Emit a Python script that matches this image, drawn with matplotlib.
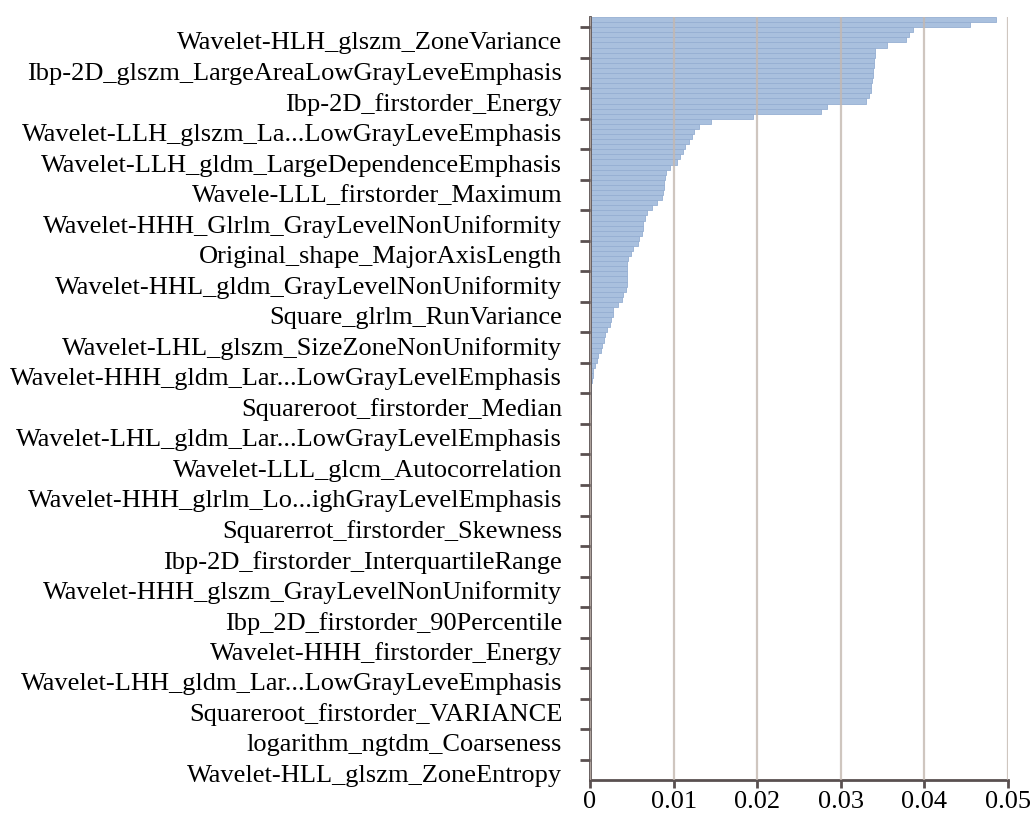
import numpy as np
import matplotlib.pyplot as plt

# feature names shown on the axis (top to bottom)
feature_labels = [
    "Wavelet-HLH_glszm_ZoneVariance",
    "Ibp-2D_glszm_LargeAreaLowGrayLeveEmphasis",
    "Ibp-2D_firstorder_Energy",
    "Wavelet-LLH_glszm_La...LowGrayLeveEmphasis",
    "Wavelet-LLH_gldm_LargeDependenceEmphasis",
    "Wavele-LLL_firstorder_Maximum",
    "Wavelet-HHH_Glrlm_GrayLevelNonUniformity",
    "Original_shape_MajorAxisLength",
    "Wavelet-HHL_gldm_GrayLevelNonUniformity",
    "Square_glrlm_RunVariance",
    "Wavelet-LHL_glszm_SizeZoneNonUniformity",
    "Wavelet-HHH_gldm_Lar...LowGrayLevelEmphasis",
    "Squareroot_firstorder_Median",
    "Wavelet-LHL_gldm_Lar...LowGrayLevelEmphasis",
    "Wavelet-LLL_glcm_Autocorrelation",
    "Wavelet-HHH_glrlm_Lo...ighGrayLevelEmphasis",
    "Squarerrot_firstorder_Skewness",
    "Ibp-2D_firstorder_InterquartileRange",
    "Wavelet-HHH_glszm_GrayLevelNonUniformity",
    "Ibp_2D_firstorder_90Percentile",
    "Wavelet-HHH_firstorder_Energy",
    "Wavelet-LHH_gldm_Lar...LowGrayLeveEmphasis",
    "Squareroot_firstorder_VARIANCE",
    "logarithm_ngtdm_Coarseness",
    "Wavelet-HLL_glszm_ZoneEntropy",
]

# importance of every feature, sorted (only every 6th one is labelled)
importance = [
    0.0486, 0.0455, 0.0386, 0.0382, 0.0378, 0.0355, 0.0341, 0.0341, 0.0340, 0.0340,
    0.0339, 0.0338, 0.0337, 0.0336, 0.0336, 0.0334, 0.0330, 0.0284, 0.0276, 0.0195,
    0.0145, 0.0131, 0.0125, 0.0122, 0.0119, 0.0114, 0.0111, 0.0108, 0.0104, 0.0096,
    0.0091, 0.0090, 0.0089, 0.0088, 0.0087, 0.0086, 0.0080, 0.0074, 0.0068, 0.0066,
    0.0064, 0.0063, 0.0062, 0.0059, 0.0058, 0.0052, 0.0049, 0.0046, 0.0044, 0.0044,
    0.0044, 0.0044, 0.0044, 0.0043, 0.0039, 0.0038, 0.0034, 0.0028, 0.0027, 0.0025,
    0.0024, 0.0020, 0.0018, 0.0017, 0.0014, 0.0013, 0.0009, 0.0008, 0.0006, 0.0004,
    0.0004, 0.0002, 0.00015, 0.0001, 0.0001, 0.00008, 0.00007, 0.00007, 0.00006, 0.00006,
    0.00005, 0.00005, 0.00005, 0.00004, 0.00004, 0.00004, 0.00004, 0.00003, 0.00003, 0.00003,
    0.00003, 0.00003, 0.00003, 0.00002, 0.00002, 0.00002, 0.00002, 0.00002, 0.00002, 0.00002,
    0.00002, 0.00002, 0.00002, 0.00002, 0.00001, 0.00001, 0.00001, 0.00001, 0.00001, 0.00001,
    0.00001, 0.00001, 0.00001, 0.00001, 0.00001, 0.00001, 0.00001, 0.00001, 0.00001, 0.00001,
    0.00001, 0.00001, 0.00001, 0.00001, 0.00001, 0.00001, 0.00001, 0.00001, 0.00001, 0.00001,
    0.00001, 0.00001, 0.00001, 0.00001, 0.00001, 0.00001, 0.00001, 0.00001, 0.00001, 0.00001,
    0.00001, 0.00001, 0.00001, 0.00001, 0.00001, 0.00001, 0.00001, 0.00001, 0.00001, 0.00001,
]

x_ticks = [0, 0.01, 0.02, 0.03, 0.04, 0.05]
x_tick_labels = ["0", "0.01", "0.02", "0.03", "0.04", "0.05"]

group = 6      # bars per labelled group
first_bar = 2  # first bar of the first labelled group

plt.rcParams['font.family'] = ['Liberation Serif', 'DejaVu Serif']

fig = plt.figure(figsize=(10.32, 8.15), dpi=100)
ax = fig.add_axes([0.5717, 0.0429, 0.405, 0.9362])

n = len(importance)
pos = np.arange(n)
ax.barh(pos, importance, height=1.0, color='#a9c0de', edgecolor='#95aed2',
        linewidth=0.6, zorder=1)

ax.set_ylim(n - 0.5, -0.5)
ax.set_xlim(0, 0.05)

# label positions = centre of each group, ticks at group boundaries
label_pos = [first_bar + group * k + (group - 1) / 2 - 0.3 for k in range(len(feature_labels))]
bound_pos = [first_bar + group * k - 0.5 for k in range(len(feature_labels))]
ax.set_yticks(label_pos)
ax.set_yticklabels(feature_labels, fontsize=19)
ax.set_yticks(bound_pos, minor=True)
ax.tick_params(axis='y', which='major', length=0, pad=20)
ax.tick_params(axis='y', which='minor', length=7, width=2, color='#5a5050')

ax.set_xticks(x_ticks)
ax.set_xticklabels(x_tick_labels, fontsize=19)
ax.tick_params(axis='x', length=6, width=2, color='#5a5050', pad=2)

ax.grid(axis='x', color='#c4b8b0', linewidth=1.6, alpha=0.8, zorder=2)
ax.set_axisbelow(False)

for s in ['top', 'right']:
    ax.spines[s].set_visible(False)
for s in ['left', 'bottom']:
    ax.spines[s].set_color('#5a5050')
    ax.spines[s].set_linewidth(2)

fig.savefig('out.png', dpi=100)
